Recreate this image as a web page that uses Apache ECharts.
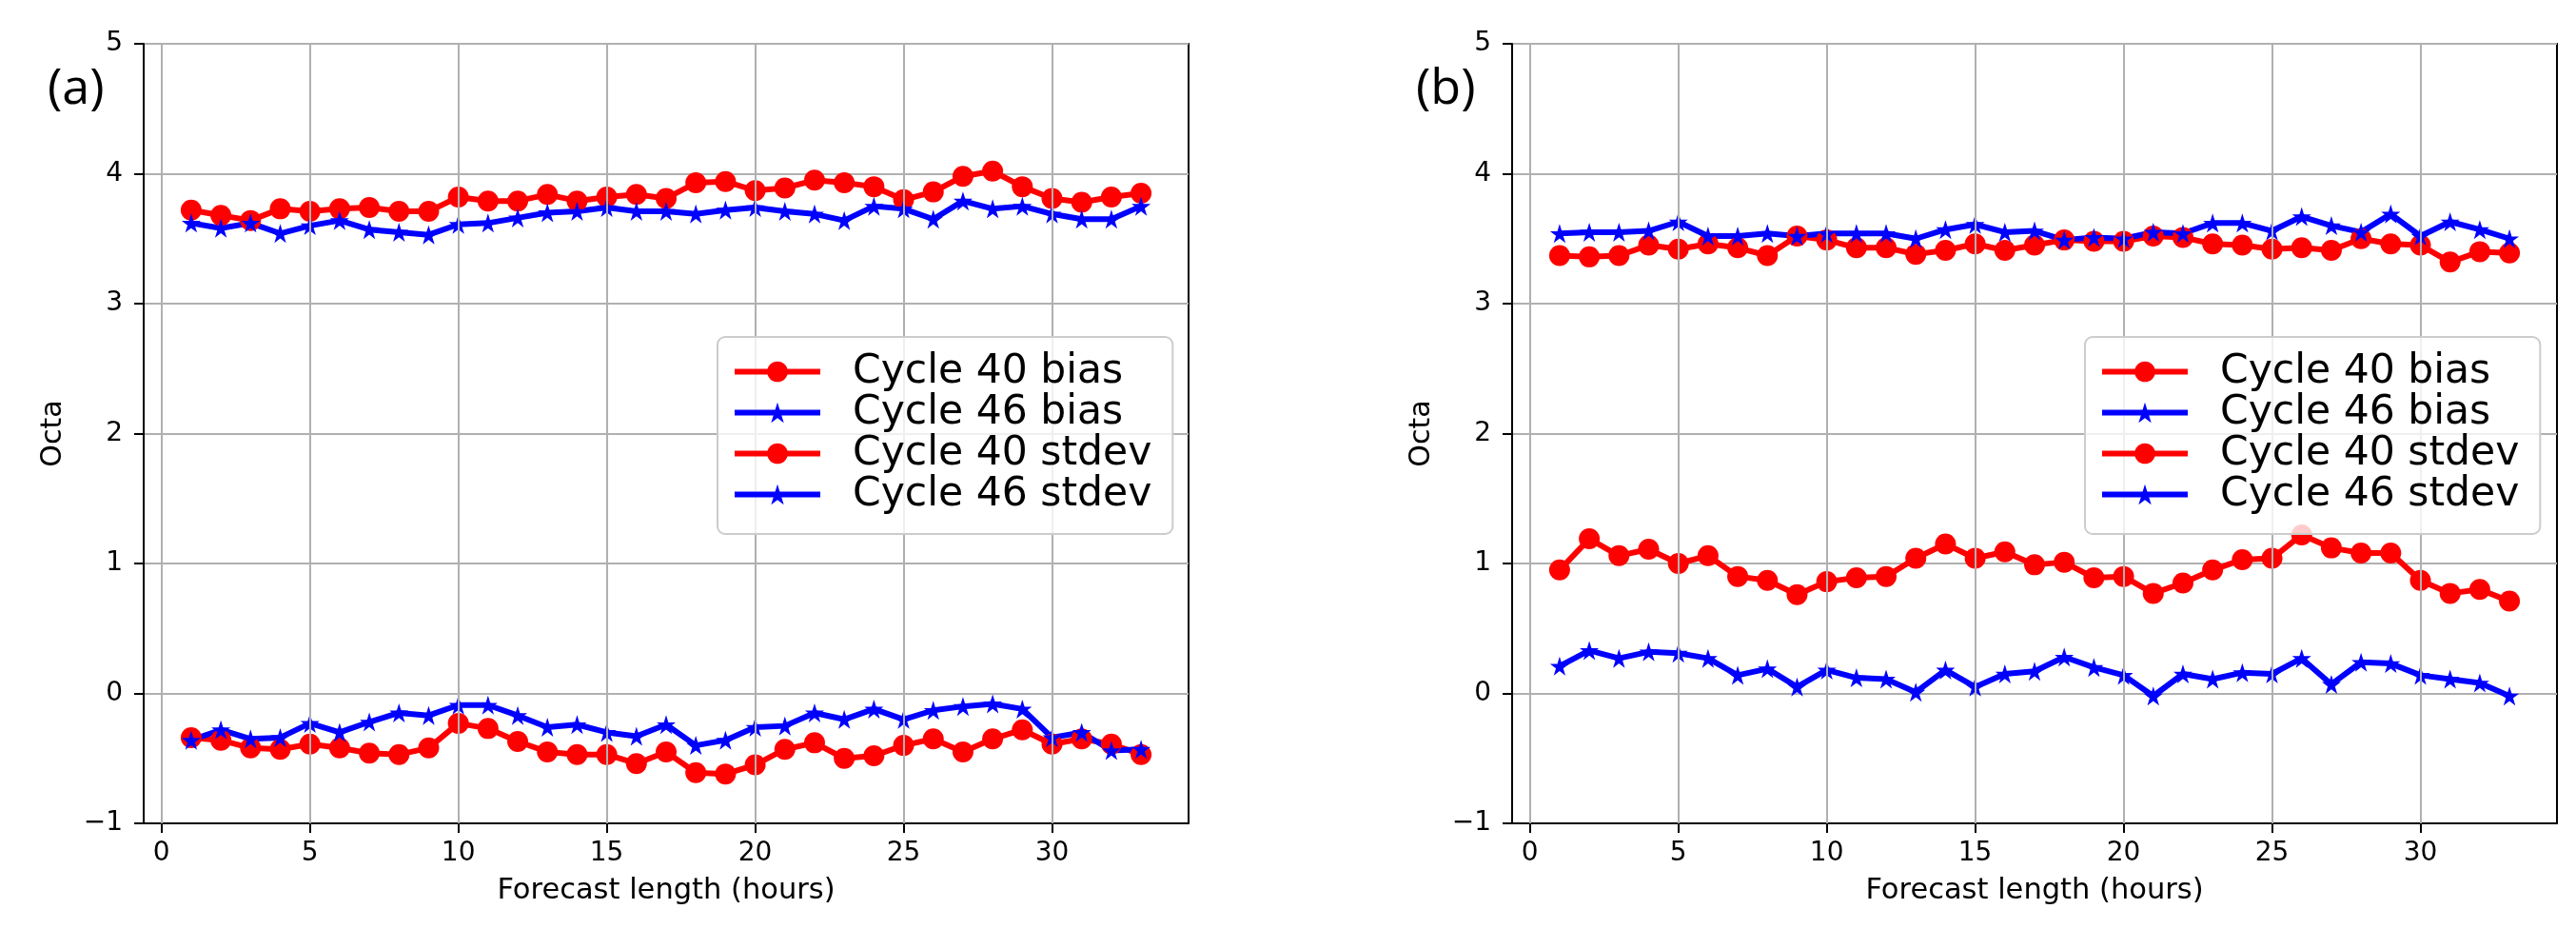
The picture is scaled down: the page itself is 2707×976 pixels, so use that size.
<!DOCTYPE html>
<html>
<head>
<meta charset="utf-8">
<script src="https://cdn.jsdelivr.net/npm/echarts@6/dist/echarts.min.js"></script>
<style>
html,body{margin:0;padding:0;background:#fff;}
#chart{width:2707px;height:976px;}
</style>
</head>
<body>
<div id="chart"></div>
<script>
// Forecast length (hours)
const hours = [1,2,3,4,5,6,7,8,9,10,11,12,13,14,15,16,17,18,19,20,21,22,23,24,25,26,27,28,29,30,31,32,33];
const xTicks = [0,5,10,15,20,25,30];
const seriesNames = ['Cycle 40 bias','Cycle 46 bias','Cycle 40 stdev','Cycle 46 stdev'];

// Panel (a)
const a_bias40 = [-0.34,-0.36,-0.42,-0.43,-0.39,-0.42,-0.46,-0.47,-0.42,-0.23,-0.27,-0.37,-0.45,-0.47,-0.47,-0.54,-0.45,-0.61,-0.62,-0.55,-0.43,-0.38,-0.50,-0.48,-0.40,-0.35,-0.45,-0.35,-0.28,-0.39,-0.35,-0.39,-0.47];
const a_bias46 = [-0.36,-0.28,-0.35,-0.34,-0.23,-0.30,-0.22,-0.15,-0.17,-0.09,-0.09,-0.17,-0.26,-0.24,-0.30,-0.33,-0.24,-0.40,-0.36,-0.26,-0.25,-0.15,-0.20,-0.12,-0.20,-0.13,-0.10,-0.08,-0.12,-0.34,-0.30,-0.44,-0.43];
const a_std40 = [3.72,3.68,3.64,3.73,3.71,3.73,3.74,3.71,3.71,3.82,3.79,3.79,3.84,3.79,3.82,3.84,3.81,3.93,3.94,3.87,3.89,3.95,3.93,3.90,3.80,3.86,3.98,4.02,3.90,3.81,3.78,3.82,3.85];
const a_std46 = [3.62,3.58,3.62,3.54,3.60,3.64,3.57,3.55,3.53,3.61,3.62,3.66,3.70,3.71,3.74,3.71,3.71,3.69,3.72,3.74,3.71,3.69,3.64,3.75,3.73,3.65,3.79,3.73,3.75,3.69,3.65,3.65,3.75];

// Panel (b)
const b_bias40 = [0.95,1.19,1.06,1.11,1.00,1.06,0.90,0.87,0.76,0.86,0.89,0.90,1.04,1.15,1.04,1.09,0.99,1.01,0.89,0.90,0.77,0.85,0.95,1.03,1.04,1.22,1.12,1.08,1.08,0.87,0.77,0.80,0.71];
const b_bias46 = [0.21,0.33,0.27,0.32,0.31,0.27,0.14,0.19,0.05,0.18,0.12,0.11,0.01,0.18,0.05,0.15,0.17,0.28,0.20,0.14,-0.02,0.15,0.11,0.16,0.15,0.27,0.07,0.24,0.23,0.14,0.11,0.08,-0.02];
const b_std40 = [3.37,3.36,3.37,3.45,3.42,3.46,3.43,3.37,3.52,3.49,3.43,3.43,3.38,3.41,3.46,3.41,3.45,3.49,3.48,3.48,3.52,3.51,3.46,3.45,3.42,3.43,3.41,3.50,3.46,3.45,3.32,3.40,3.39];
const b_std46 = [3.54,3.55,3.55,3.56,3.63,3.52,3.52,3.54,3.52,3.54,3.54,3.54,3.50,3.57,3.61,3.55,3.56,3.49,3.51,3.50,3.55,3.54,3.62,3.62,3.56,3.67,3.60,3.55,3.69,3.52,3.63,3.57,3.50];

const STAR = 'path://M50 0L61.23 34.55L97.55 34.55L68.17 55.9L79.39 90.45L50 69.1L20.61 90.45L31.83 55.9L2.45 34.55L38.77 34.55Z';
const RED = '#ff0000', BLUE = '#0000ff';
const FONT = 'DejaVu Sans';

function pairs(vals){ return hours.map((h,i)=>[h, vals[i]]); }

function mkSeries(name, vals, color, star, idx){
  return {
    name: name, type: 'line', xAxisIndex: idx, yAxisIndex: idx,
    data: pairs(vals),
    symbol: star ? STAR : 'circle',
    symbolSize: star ? 20 : 22,
    showSymbol: true,
    lineStyle: {color: color, width: 6},
    itemStyle: {color: color, borderWidth: 0},
    z: 3,
    emphasis: {disabled: true},
    animation: false
  };
}

function gridSeries(idx){
  return {
    type: 'line', xAxisIndex: idx, yAxisIndex: idx, data: [], z: 1, silent: true,
    markLine: {
      silent: true, symbol: 'none', animation: false,
      label: {show: false},
      lineStyle: {color: '#b0b0b0', width: 2, type: 'solid'},
      emphasis: {disabled: true},
      data: xTicks.map(v => ({xAxis: v}))
    }
  };
}

const grids = [
  {left: 151, top: 46, width: 1098, height: 819, show: true, borderColor: '#000', borderWidth: 2, backgroundColor: 'transparent'},
  {left: 1589, top: 46, width: 1098, height: 819, show: true, borderColor: '#000', borderWidth: 2, backgroundColor: 'transparent'}
];

function xAxis(idx){
  return {
    type: 'value', gridIndex: idx, min: -0.6, max: 34.6,
    name: 'Forecast length (hours)', nameLocation: 'middle', nameGap: 56,
    nameTextStyle: {fontFamily: FONT, fontSize: 30.5, color: '#000'},
    axisLine: {show: true, onZero: false, lineStyle: {color: '#000', width: 2}},
    axisTick: {show: true, length: 10, lineStyle: {color: '#000', width: 2}, customValues: xTicks},
    axisLabel: {fontFamily: FONT, fontSize: 28, color: '#000', margin: 18, customValues: xTicks},
    splitLine: {show: false}
  };
}
function yAxis(idx){
  return {
    type: 'value', gridIndex: idx, min: -1, max: 5, interval: 1,
    name: 'Octa', nameLocation: 'middle', nameGap: 80,
    nameTextStyle: {fontFamily: FONT, fontSize: 30, color: '#000'},
    axisLine: {show: true, onZero: false, lineStyle: {color: '#000', width: 2}},
    axisTick: {show: true, length: 10, lineStyle: {color: '#000', width: 2}},
    axisLabel: {fontFamily: FONT, fontSize: 28, color: '#000', margin: 22,
      formatter: v => v < 0 ? '\u2212' + (-v) : String(v)},
    splitLine: {show: true, lineStyle: {color: '#b0b0b0', width: 2}}
  };
}

function legend(left){
  return {
    orient: 'vertical', left: left, top: 354,
    data: seriesNames,
    itemWidth: 90, itemHeight: 27, itemGap: 0,
    padding: [15, 22, 20, 15],
    backgroundColor: 'rgba(255,255,255,0.8)',
    borderColor: '#cccccc', borderWidth: 2, borderRadius: 8,
    selectedMode: false,
    lineStyle: {width: 6},
    textStyle: {fontFamily: FONT, fontSize: 42.5, color: '#000', lineHeight: 42, padding: [0,0,0,29]},
    z: 10
  };
}

const option = {
  backgroundColor: '#fff',
  animation: false,
  grid: grids,
  xAxis: [xAxis(0), xAxis(1)],
  yAxis: [yAxis(0), yAxis(1)],
  legend: [legend(754), legend(2191)],
  series: [
    gridSeries(0), gridSeries(1),
    mkSeries(seriesNames[0], a_bias40, RED, false, 0),
    mkSeries(seriesNames[1], a_bias46, BLUE, true, 0),
    mkSeries(seriesNames[2], a_std40, RED, false, 0),
    mkSeries(seriesNames[3], a_std46, BLUE, true, 0),
    mkSeries(seriesNames[0], b_bias40, RED, false, 1),
    mkSeries(seriesNames[1], b_bias46, BLUE, true, 1),
    mkSeries(seriesNames[2], b_std40, RED, false, 1),
    mkSeries(seriesNames[3], b_std46, BLUE, true, 1)
  ],
  graphic: [
    {type: 'text', left: 50, top: 68, style: {text: '(a)', fontFamily: 'Open Sans', fontSize: 52, fill: '#000'}},
    {type: 'text', left: 1488, top: 68, style: {text: '(b)', fontFamily: 'Open Sans', fontSize: 52, fill: '#000'}}
  ]
};

const chart = echarts.init(document.getElementById('chart'), null, {renderer: 'canvas'});
chart.setOption(option);
</script>
</body>
</html>
